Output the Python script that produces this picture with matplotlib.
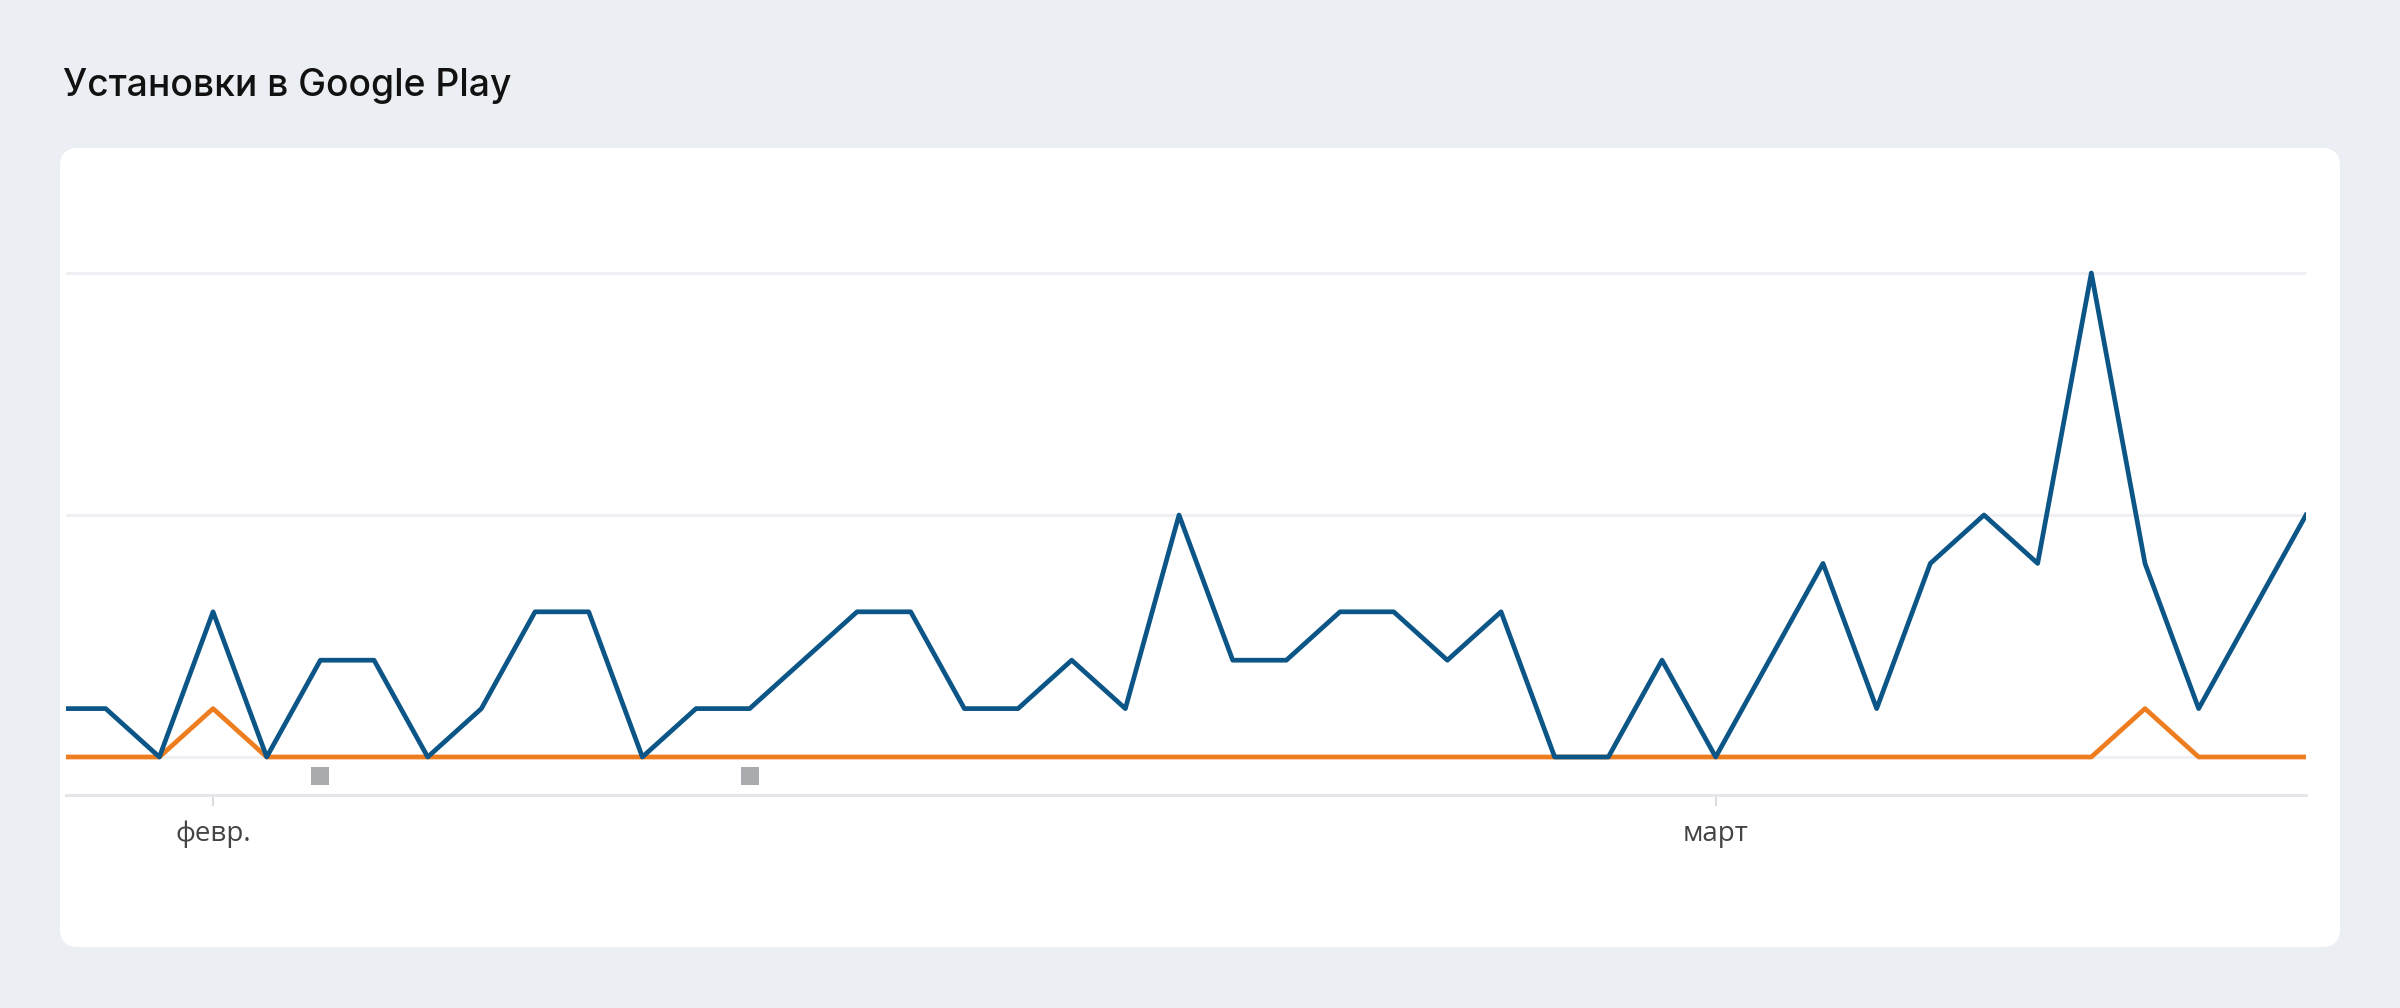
import matplotlib.pyplot as plt
import matplotlib.dates as mdates
from matplotlib.patches import FancyBboxPatch
import pandas as pd

# daily values, 29 jan - 12 mar
dates = pd.date_range('2023-01-29', '2023-03-12', freq='D')
installs_blue = [1, 1, 0,
                 3, 0, 2, 2, 0, 1, 3, 3, 0, 1, 1, 2, 3, 3, 1, 1, 2, 1, 5, 2, 2, 3, 3, 2, 3, 0, 0, 2,
                 0, 2, 4, 1, 4, 5, 4, 10, 4, 1, 3, 5]
installs_orange = [0, 0, 0,
                   1, 0, 0, 0, 0, 0, 0, 0, 0, 0, 0, 0, 0, 0, 0, 0, 0, 0, 0, 0, 0, 0, 0, 0, 0, 0, 0, 0,
                   0, 0, 0, 0, 0, 0, 0, 0, 1, 0, 0, 0]
tick_dates = ['2023-02-01', '2023-03-01']
tick_labels = ['февр.', 'март']
note_dates = ['2023-02-03', '2023-02-11']
grid_values = [0, 5, 10]

x = mdates.date2num(dates)
xt = mdates.date2num(pd.to_datetime(tick_dates))
xn = mdates.date2num(pd.to_datetime(note_dates))

plt.rcParams['savefig.bbox'] = None

fig = plt.figure(figsize=(24, 10.08), dpi=100)
fig.patch.set_facecolor('#ebeef3')

# white card behind the chart
card = FancyBboxPatch((0.60, 0.61), 22.8, 7.99, boxstyle='round,pad=0,rounding_size=0.18',
                      transform=fig.dpi_scale_trans, facecolor='white', edgecolor='none', zorder=0)
fig.add_artist(card)

fig.text(0.63, 10.08 - 0.96, 'Установки в Google Play', fontsize=26.8,
         family=['Inter', 'DejaVu Sans'], weight='medium', va='baseline', color='#111111',
         transform=fig.dpi_scale_trans)

ax = fig.add_axes([66 / 2400, 213 / 1008, 2240 / 2400, 546.2 / 1008])
ax.set_facecolor('none')
ax.set_zorder(2)

ax.plot(x, installs_orange, color='#ee7d1f', lw=3.4, zorder=3)
ax.plot(x, installs_blue, color='#0b5587', lw=3.4, zorder=4)
ax.scatter(xn, [-0.39] * len(xn), marker='s', s=165, color='#a9abae', linewidths=0, zorder=3)

ax.set_xlim(xt[0] - 2.74, x[-1])
ax.set_ylim(-0.785, 10.5)

ax.set_yticks(grid_values)
ax.grid(axis='y', color='#eef0f3', lw=2.2)
ax.set_axisbelow(True)
ax.tick_params(axis='y', length=0, labelleft=False)

ax.set_xticks(xt)
ax.set_xticklabels(tick_labels, fontsize=20, family=['Open Sans', 'DejaVu Sans'], color='#444444')
ax.tick_params(axis='x', length=8, width=1.5, color='#dadce0', pad=10)

for s in ['top', 'right', 'left']:
    ax.spines[s].set_visible(False)
ax.spines['bottom'].set_color('#e4e6e9')
ax.spines['bottom'].set_linewidth(2.2)

plt.savefig('out.png', dpi=100, facecolor=fig.get_facecolor())
